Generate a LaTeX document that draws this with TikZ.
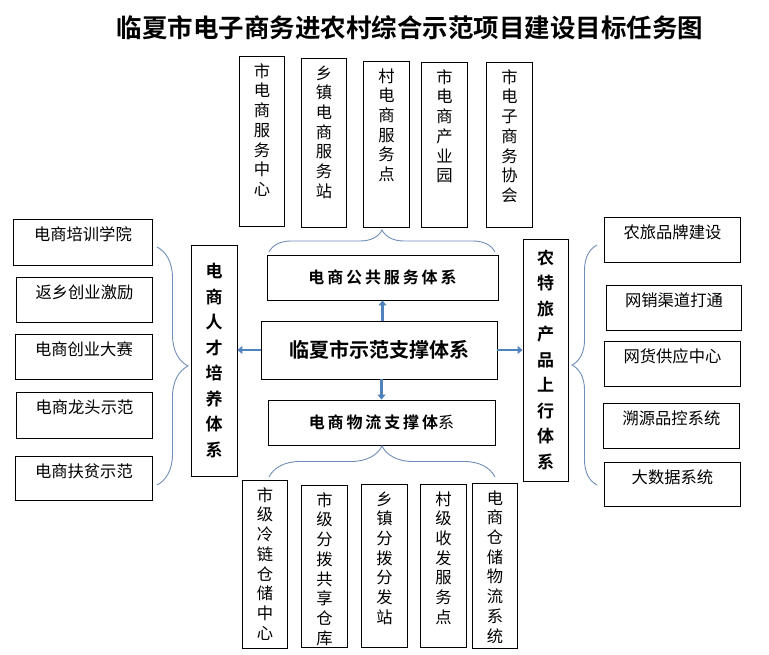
\documentclass[tikz,border=0pt]{standalone}
\usepackage{fontspec}
\setmainfont{Noto Sans CJK SC}[BoldFont={Noto Sans CJK SC Bold}]
\newfontfamily\widecjk{Noto Sans CJK SC}[LetterSpace=18,BoldFont={Noto Sans CJK SC Bold}]
\usetikzlibrary{positioning,arrows.meta,decorations.pathreplacing}
\definecolor{linkblue}{RGB}{79,129,189}
\definecolor{bracegray}{RGB}{112,142,186}
% box of fixed size with its text at the top
\newcommand{\cellbox}[3]{\parbox[c][#2pt][t]{#1pt}{\centering\vspace*{7pt}#3}}
\tikzset{
  cell/.style={draw, line width=0.9pt, inner sep=0pt, anchor=north west,
    font=\fontsize{16.3}{19.7}\selectfont},
  groupbox/.style={draw, line width=0.9pt, inner sep=0pt, align=center,
    font=\bfseries\fontsize{17}{25.5}\selectfont},
  subbox/.style={draw, line width=0.9pt, inner sep=0pt,
    font=\widecjk\bfseries\fontsize{16}{19}\selectfont},
  flow/.style={draw=linkblue, line width=2.6pt, -{Triangle[length=5pt,width=8pt]}},
  grpbrace/.style={draw=bracegray, line width=0.9pt, decorate,
    decoration={brace, amplitude=#1}}
}
\begin{document}
\begin{tikzpicture}[x=1pt,y=-1pt]
    \useasboundingbox (0,0) rectangle (769,655);
    \node[font=\bfseries\fontsize{25.5}{30}\selectfont] (title) at (410,28)
        {临夏市电子商务进农村综合示范项目建设目标任务图};

    % Centre
    \node[draw, line width=0.9pt, minimum width=236, minimum height=58,
        font=\bfseries\fontsize{20}{24}\selectfont] (hub) at (379,350) {临夏市示范支撑体系};
    \node[subbox, minimum width=231, minimum height=45] (pub) at (382.5,277.5) {电商公共服务体系};
    \node[subbox, minimum width=227, minimum height=45] (log) at (381.5,422.5) {电商物流支撑体{\mdseries 系}};
    \node[groupbox, minimum width=46, minimum height=231] (talent) at (214,360.5)
        {电\\商\\人\\才\\培\\养\\体\\系};
    \node[groupbox, minimum width=45, minimum height=242] (rural) at (545.5,360)
        {农\\特\\旅\\产\\品\\上\\行\\体\\系};

    \draw[flow] (pub.south |- hub.north) -- (pub.south);
    \draw[flow] (log.north |- hub.south) -- (log.north);
    \draw[flow] (hub.west) -- (hub.west -| talent.east);
    \draw[flow] (hub.east) -- (hub.east -| rural.west);

    % Public service
    \node[cell] (t1) at (239,56) {\cellbox{45}{170}{市\\电\\商\\服\\务\\中\\心}};
    \node[cell] (t2) at (301,58) {\cellbox{45}{169}{乡\\镇\\电\\商\\服\\务\\站}};
    \node[cell] (t3) at (363,61) {\cellbox{46}{166}{村\\电\\商\\服\\务\\点}};
    \node[cell] (t4) at (421,62) {\cellbox{46}{165}{市\\电\\商\\产\\业\\园}};
    \node[cell] (t5) at (486,62) {\cellbox{46}{165}{市\\电\\子\\商\\务\\协\\会}};
    \coordinate (pubL) at (269,252);
    \coordinate (pubR) at (495,252);
    \draw[grpbrace=22] (pubL) -- (pubR);

    % Logistics
    \node[cell] (b1) at (242,480) {\cellbox{45}{168}{市\\级\\冷\\链\\仓\\储\\中\\心}};
    \node[cell] (b2) at (301,485) {\cellbox{46}{162}{市\\级\\分\\拨\\共\\享\\仓\\库}};
    \node[cell] (b3) at (361,484) {\cellbox{46}{163}{乡\\镇\\分\\拨\\分\\发\\站}};
    \node[cell] (b4) at (420,484) {\cellbox{46}{163}{村\\级\\收\\发\\服\\务\\点}};
    \node[cell] (b5) at (472,483) {\cellbox{45}{165}{电\\商\\仓\\储\\物\\流\\系\\统}};
    \coordinate (logL) at (269,477);
    \coordinate (logR) at (495,477);
    \draw[grpbrace=31] (logL) -- (logR);

    % Talent
    \node[cell] (l1) at (13,219) {\cellbox{139}{46}{电商培训学院}};
    \node[cell] (l2) at (16,277) {\cellbox{136}{45}{返乡创业激励}};
    \node[cell] (l3) at (15,334) {\cellbox{137}{45}{电商创业大赛}};
    \node[cell] (l4) at (16,392) {\cellbox{136}{46}{电商龙头示范}};
    \node[cell] (l5) at (15,456) {\cellbox{137}{44}{电商扶贫示范}};
    \coordinate (talT) at (157,247);
    \coordinate (talB) at (157,485);
    \draw[grpbrace=31] (talT) -- (talB);

    % Rural products
    \node[cell] (r1) at (604,217) {\cellbox{136}{45}{农旅品牌建设}};
    \node[cell] (r2) at (606,285) {\cellbox{135}{45}{网销渠道打通}};
    \node[cell] (r3) at (604,341) {\cellbox{136}{45}{网货供应中心}};
    \node[cell] (r4) at (603,403) {\cellbox{136}{45}{溯源品控系统}};
    \node[cell] (r5) at (604,462) {\cellbox{136}{44}{大数据系统}};
    \coordinate (rurB) at (597,485);
    \coordinate (rurT) at (597,245);
    \draw[grpbrace=25] (rurB) -- (rurT);
\end{tikzpicture}
\end{document}
